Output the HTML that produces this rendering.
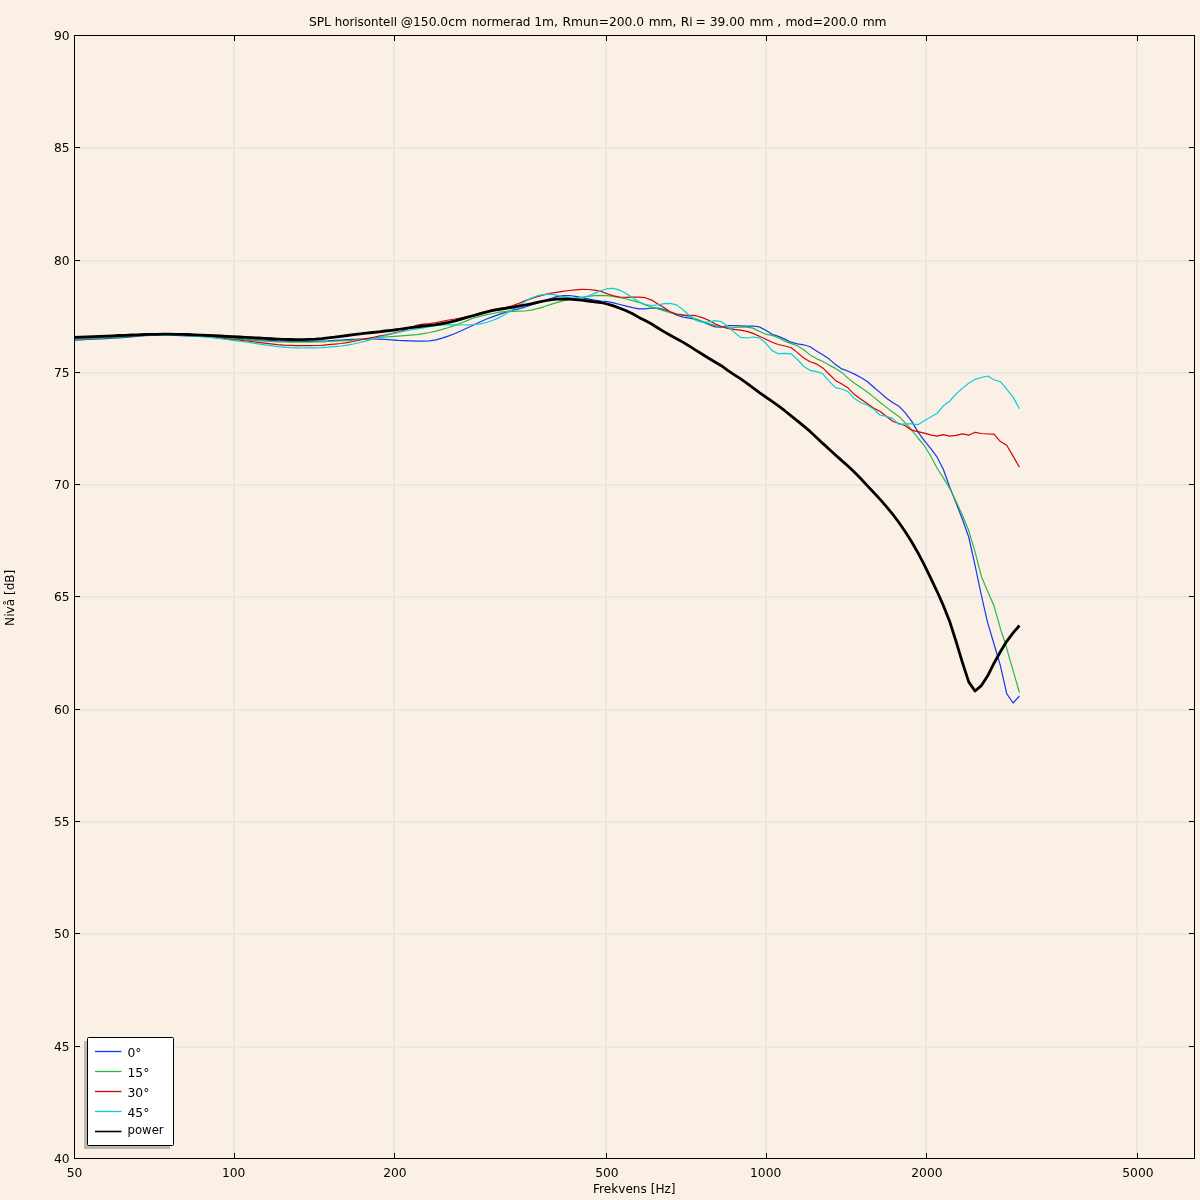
<!DOCTYPE html>
<html><head><meta charset="utf-8"><title>SPL horisontell</title>
<style>html,body{margin:0;padding:0;background:#faf0e6;}svg{display:block}text{font-family:"DejaVu Sans","Liberation Sans",sans-serif;fill:#000}</style></head><body>
<svg width="1200" height="1200" viewBox="0 0 1200 1200">
<rect x="0" y="0" width="1200" height="1200" fill="#faf0e6"/>
<path d="M75 148H1194 M75 261H1194 M75 373H1194 M75 485H1194 M75 597H1194 M75 710H1194 M75 822H1194 M75 934H1194 M75 1047H1194 M234 36V1158 M394 36V1158 M606 36V1158 M766 36V1158 M926 36V1158 M1137 36V1158" stroke="rgb(235,231,226)" stroke-width="2" fill="none"/>
<polyline points="74.5,340.1 80.8,339.8 87.2,339.5 93.5,339.2 99.9,338.9 106.2,338.6 112.5,338.2 118.9,337.8 125.2,337.4 131.6,336.8 137.9,336.1 144.3,335.6 150.6,335.4 156.9,335.4 163.3,335.4 169.6,335.5 176.0,335.5 182.3,335.6 188.6,335.8 195.0,336.0 201.3,336.3 207.7,336.5 214.0,336.9 220.4,337.3 226.7,337.7 233.0,338.2 239.4,338.8 245.7,339.4 252.1,339.8 258.4,340.0 264.7,340.1 271.1,340.4 277.4,340.9 283.8,341.2 290.1,341.4 296.5,341.5 302.8,341.5 309.1,341.4 315.5,341.2 321.8,341.0 328.2,340.8 334.5,340.4 340.8,340.1 347.2,339.7 353.5,339.3 359.9,339.0 366.2,339.0 372.6,339.0 378.9,339.1 385.2,339.4 391.6,339.8 397.9,340.3 404.3,340.6 410.6,340.9 416.9,341.2 423.3,341.2 429.6,340.9 436.0,339.9 442.3,338.1 448.7,335.9 455.0,333.5 461.3,330.8 467.7,327.8 474.0,324.7 480.4,321.7 486.7,319.0 493.0,316.6 499.4,314.4 505.7,312.1 512.1,310.3 518.4,308.8 524.8,307.2 531.1,305.0 537.4,303.0 543.8,301.1 550.1,298.7 556.5,296.6 562.8,295.6 569.1,295.5 575.5,296.3 581.8,297.6 588.2,298.9 594.5,300.1 600.9,301.0 607.2,301.7 613.5,302.9 619.9,304.5 626.2,306.1 632.6,307.6 638.9,308.9 645.2,308.8 651.6,308.0 657.9,308.1 664.3,309.6 670.6,312.5 677.0,315.2 683.3,317.1 689.6,318.1 696.0,319.4 702.3,321.7 708.7,324.5 715.0,326.9 721.3,327.1 727.7,325.7 734.0,325.6 740.4,325.8 746.7,326.2 753.1,326.0 759.4,326.9 765.7,330.3 772.1,334.3 778.4,336.4 784.8,339.1 791.1,342.2 797.4,343.8 803.8,344.8 810.1,346.8 816.5,350.9 822.8,354.7 829.2,359.1 835.5,364.6 841.8,368.9 848.2,371.3 854.5,374.1 860.9,377.5 867.2,381.5 873.5,387.0 879.9,392.4 886.2,398.0 892.6,402.6 898.9,406.2 905.3,412.8 911.6,421.1 917.9,431.9 924.3,440.7 930.6,448.3 937.0,456.9 943.3,469.3 949.6,486.7 956.0,502.8 962.3,519.0 968.7,537.0 975.0,565.1 981.4,595.5 987.7,622.8 994.0,644.0 1000.4,665.6 1006.7,693.6 1013.1,703.0 1019.4,696.0" fill="none" stroke="#1238ee" stroke-width="1.2" stroke-linejoin="round"/>
<polyline points="74.5,339.3 80.8,339.0 87.2,338.8 93.5,338.5 99.9,338.2 106.2,337.9 112.5,337.6 118.9,337.2 125.2,336.9 131.6,336.4 137.9,335.9 144.3,335.5 150.6,335.3 156.9,335.3 163.3,335.3 169.6,335.4 176.0,335.4 182.3,335.5 188.6,335.7 195.0,335.9 201.3,336.2 207.7,336.5 214.0,337.0 220.4,337.6 226.7,338.2 233.0,338.7 239.4,339.2 245.7,339.7 252.1,340.2 258.4,340.7 264.7,341.2 271.1,341.5 277.4,341.8 283.8,342.0 290.1,342.1 296.5,342.2 302.8,342.2 309.1,342.1 315.5,342.0 321.8,341.8 328.2,341.5 334.5,341.2 340.8,341.0 347.2,340.7 353.5,340.2 359.9,339.5 366.2,338.8 372.6,338.0 378.9,337.5 385.2,337.0 391.6,336.6 397.9,336.1 404.3,335.7 410.6,335.2 416.9,334.6 423.3,333.6 429.6,332.5 436.0,331.1 442.3,329.4 448.7,327.5 455.0,325.4 461.3,323.0 467.7,320.4 474.0,317.8 480.4,316.1 486.7,314.7 493.0,313.5 499.4,312.2 505.7,311.6 512.1,311.4 518.4,311.2 524.8,311.0 531.1,310.1 537.4,308.7 543.8,306.8 550.1,304.6 556.5,302.6 562.8,300.9 569.1,299.5 575.5,298.2 581.8,297.3 588.2,296.3 594.5,295.6 600.9,295.4 607.2,295.7 613.5,296.4 619.9,297.6 626.2,299.0 632.6,300.6 638.9,302.3 645.2,304.9 651.6,307.0 657.9,308.9 664.3,310.9 670.6,312.7 677.0,313.9 683.3,314.9 689.6,316.6 696.0,319.0 702.3,321.4 708.7,323.7 715.0,325.4 721.3,326.6 727.7,327.8 734.0,327.6 740.4,327.0 746.7,327.1 753.1,328.1 759.4,331.4 765.7,334.2 772.1,335.4 778.4,337.7 784.8,341.1 791.1,343.6 797.4,345.7 803.8,349.7 810.1,354.9 816.5,358.6 822.8,361.5 829.2,365.1 835.5,368.4 841.8,372.4 848.2,378.4 854.5,383.3 860.9,387.6 867.2,392.0 873.5,396.9 879.9,402.2 886.2,407.1 892.6,411.9 898.9,416.4 905.3,422.8 911.6,429.8 917.9,438.0 924.3,445.7 930.6,455.8 937.0,468.0 943.3,477.9 949.6,488.1 956.0,501.2 962.3,515.1 968.7,530.6 975.0,551.6 981.4,576.5 987.7,591.4 994.0,605.8 1000.4,628.6 1006.7,648.3 1013.1,670.7 1019.4,692.5" fill="none" stroke="#2ab840" stroke-width="1.2" stroke-linejoin="round"/>
<polyline points="74.5,338.3 80.8,338.1 87.2,337.8 93.5,337.6 99.9,337.3 106.2,337.0 112.5,336.7 118.9,336.5 125.2,336.2 131.6,335.9 137.9,335.5 144.3,335.3 150.6,335.2 156.9,335.2 163.3,335.3 169.6,335.3 176.0,335.4 182.3,335.5 188.6,335.7 195.0,336.0 201.3,336.3 207.7,336.7 214.0,337.4 220.4,338.1 226.7,338.9 233.0,339.6 239.4,340.2 245.7,340.8 252.1,341.5 258.4,342.4 264.7,343.2 271.1,343.9 277.4,344.6 283.8,345.1 290.1,345.4 296.5,345.7 302.8,345.7 309.1,345.6 315.5,345.5 321.8,345.3 328.2,344.7 334.5,344.1 340.8,343.5 347.2,342.6 353.5,341.5 359.9,340.0 366.2,338.7 372.6,337.5 378.9,336.2 385.2,335.0 391.6,333.7 397.9,332.2 404.3,330.1 410.6,327.2 416.9,325.2 423.3,324.2 429.6,323.5 436.0,322.5 442.3,321.3 448.7,320.0 455.0,319.0 461.3,317.8 467.7,316.5 474.0,314.8 480.4,312.9 486.7,311.0 493.0,309.5 499.4,308.4 505.7,307.3 512.1,305.9 518.4,303.5 524.8,300.9 531.1,298.6 537.4,296.6 543.8,294.8 550.1,293.3 556.5,292.4 562.8,291.4 569.1,290.5 575.5,289.8 581.8,289.3 588.2,289.5 594.5,290.1 600.9,291.4 607.2,293.7 613.5,295.9 619.9,297.0 626.2,297.4 632.6,297.2 638.9,297.2 645.2,297.7 651.6,300.1 657.9,304.0 664.3,307.8 670.6,311.9 677.0,314.5 683.3,315.2 689.6,315.3 696.0,315.7 702.3,317.6 708.7,320.3 715.0,323.8 721.3,326.5 727.7,328.5 734.0,329.4 740.4,330.1 746.7,331.4 753.1,333.4 759.4,336.2 765.7,339.2 772.1,342.2 778.4,344.5 784.8,346.0 791.1,347.5 797.4,352.6 803.8,358.0 810.1,361.8 816.5,363.9 822.8,367.9 829.2,374.2 835.5,380.4 841.8,384.1 848.2,388.1 854.5,394.6 860.9,399.2 867.2,403.6 873.5,408.1 879.9,411.2 886.2,416.3 892.6,421.3 898.9,423.5 905.3,425.7 911.6,430.2 917.9,431.7 924.3,433.2 930.6,434.9 937.0,436.2 943.3,434.7 949.6,436.2 956.0,435.4 962.3,433.8 968.7,435.2 975.0,432.3 981.4,433.5 987.7,434.0 994.0,434.2 1000.4,441.6 1006.7,445.3 1013.1,456.1 1019.4,467.2" fill="none" stroke="#d00404" stroke-width="1.2" stroke-linejoin="round"/>
<polyline points="74.5,338.3 80.8,338.1 87.2,337.8 93.5,337.6 99.9,337.3 106.2,337.0 112.5,336.7 118.9,336.5 125.2,336.2 131.6,335.9 137.9,335.5 144.3,335.3 150.6,335.2 156.9,335.2 163.3,335.3 169.6,335.4 176.0,335.5 182.3,335.7 188.6,335.9 195.0,336.2 201.3,336.6 207.7,337.2 214.0,337.9 220.4,338.6 226.7,339.5 233.0,340.4 239.4,341.2 245.7,342.0 252.1,342.9 258.4,343.9 264.7,344.8 271.1,345.7 277.4,346.6 283.8,347.2 290.1,347.7 296.5,347.9 302.8,348.0 309.1,347.9 315.5,347.8 321.8,347.6 328.2,347.2 334.5,346.6 340.8,346.0 347.2,345.1 353.5,344.0 359.9,342.5 366.2,340.9 372.6,339.2 378.9,337.5 385.2,335.7 391.6,334.0 397.9,332.5 404.3,331.1 410.6,330.0 416.9,328.9 423.3,327.8 429.6,326.7 436.0,325.6 442.3,325.0 448.7,324.8 455.0,324.9 461.3,325.0 467.7,324.8 474.0,324.5 480.4,323.8 486.7,322.5 493.0,320.3 499.4,317.6 505.7,314.1 512.1,309.9 518.4,305.6 524.8,301.8 531.1,298.1 537.4,295.7 543.8,294.6 550.1,294.2 556.5,295.1 562.8,296.3 569.1,297.6 575.5,298.3 581.8,297.7 588.2,296.0 594.5,293.4 600.9,290.7 607.2,288.7 613.5,288.3 619.9,290.2 626.2,293.5 632.6,297.8 638.9,301.8 645.2,304.3 651.6,305.5 657.9,304.8 664.3,303.6 670.6,303.3 677.0,305.1 683.3,310.0 689.6,315.7 696.0,320.4 702.3,322.4 708.7,321.8 715.0,320.6 721.3,321.7 727.7,326.3 734.0,332.1 740.4,337.3 746.7,338.0 753.1,337.0 759.4,337.9 765.7,343.1 772.1,350.6 778.4,353.7 784.8,353.3 791.1,353.8 797.4,359.5 803.8,366.4 810.1,370.3 816.5,371.6 822.8,373.8 829.2,381.3 835.5,387.7 841.8,389.0 848.2,391.8 854.5,398.6 860.9,402.8 867.2,405.0 873.5,408.9 879.9,415.0 886.2,416.4 892.6,418.4 898.9,424.4 905.3,423.8 911.6,423.8 917.9,424.7 924.3,420.7 930.6,417.1 937.0,413.5 943.3,405.8 949.6,401.3 956.0,394.0 962.3,388.4 968.7,383.2 975.0,379.3 981.4,377.5 987.7,376.0 994.0,379.7 1000.4,381.7 1006.7,389.2 1013.1,397.1 1019.4,408.7" fill="none" stroke="#08d0d4" stroke-width="1.2" stroke-linejoin="round"/>
<polyline points="74.5,337.3 80.8,337.1 87.2,336.8 93.5,336.6 99.9,336.3 106.2,336.1 112.5,335.8 118.9,335.5 125.2,335.3 131.6,335.0 137.9,334.8 144.3,334.5 150.6,334.4 156.9,334.3 163.3,334.2 169.6,334.2 176.0,334.3 182.3,334.4 188.6,334.5 195.0,334.8 201.3,335.1 207.7,335.3 214.0,335.7 220.4,336.0 226.7,336.3 233.0,336.7 239.4,337.0 245.7,337.4 252.1,337.7 258.4,338.0 264.7,338.3 271.1,338.7 277.4,339.1 283.8,339.4 290.1,339.5 296.5,339.6 302.8,339.6 309.1,339.4 315.5,339.1 321.8,338.6 328.2,337.9 334.5,337.2 340.8,336.3 347.2,335.5 353.5,334.6 359.9,333.8 366.2,333.1 372.6,332.5 378.9,331.8 385.2,331.0 391.6,330.3 397.9,329.5 404.3,328.5 410.6,327.6 416.9,326.8 423.3,326.0 429.6,325.4 436.0,324.7 442.3,323.6 448.7,322.4 455.0,320.9 461.3,319.1 467.7,317.2 474.0,315.5 480.4,313.7 486.7,312.0 493.0,310.4 499.4,309.4 505.7,308.3 512.1,307.3 518.4,306.2 524.8,305.0 531.1,303.8 537.4,302.4 543.8,301.0 550.1,299.8 556.5,299.1 562.8,299.0 569.1,299.1 575.5,299.6 581.8,300.2 588.2,301.0 594.5,301.8 600.9,302.5 607.2,304.0 613.5,305.9 619.9,308.2 626.2,310.8 632.6,313.7 638.9,317.4 645.2,320.6 651.6,324.0 657.9,328.0 664.3,331.9 670.6,335.5 677.0,339.0 683.3,342.4 689.6,346.2 696.0,350.3 702.3,354.2 708.7,358.2 715.0,362.0 721.3,365.7 727.7,370.3 734.0,374.6 740.4,378.7 746.7,383.1 753.1,387.8 759.4,392.6 765.7,397.0 772.1,401.4 778.4,405.8 784.8,410.7 791.1,415.9 797.4,420.9 803.8,426.1 810.1,431.4 816.5,437.4 822.8,443.4 829.2,449.2 835.5,455.0 841.8,460.6 848.2,466.3 854.5,472.3 860.9,478.7 867.2,485.6 873.5,492.3 879.9,499.1 886.2,506.4 892.6,514.2 898.9,522.5 905.3,531.7 911.6,541.8 917.9,552.7 924.3,564.8 930.6,577.8 937.0,591.3 943.3,605.4 949.6,621.3 956.0,641.2 962.3,662.1 968.7,681.9 975.0,691.0 981.4,685.6 987.7,675.8 994.0,663.2 1000.4,651.8 1006.7,641.3 1013.1,632.9 1019.4,625.5" fill="none" stroke="#000" stroke-width="2.78" stroke-linejoin="round"/>
<path d="M74 35.5h6M1195 35.5h-6M74 147.5h6M1195 147.5h-6M74 260.5h6M1195 260.5h-6M74 372.5h6M1195 372.5h-6M74 484.5h6M1195 484.5h-6M74 596.5h6M1195 596.5h-6M74 709.5h6M1195 709.5h-6M74 821.5h6M1195 821.5h-6M74 933.5h6M1195 933.5h-6M74 1046.5h6M1195 1046.5h-6M74 1158.5h6M1195 1158.5h-6M74.5 1159v-6M74.5 35v6M234.5 1159v-6M234.5 35v6M394.5 1159v-6M394.5 35v6M606.5 1159v-6M606.5 35v6M766.5 1159v-6M766.5 35v6M926.5 1159v-6M926.5 35v6M1137.5 1159v-6M1137.5 35v6" stroke="#000" stroke-width="1" fill="none"/>
<rect x="74.5" y="35.5" width="1120" height="1123" fill="none" stroke="#000" stroke-width="1"/>
<text x="69.6" y="40" font-size="12.3" text-anchor="end">90</text>
<text x="69.6" y="152" font-size="12.3" text-anchor="end">85</text>
<text x="69.6" y="265" font-size="12.3" text-anchor="end">80</text>
<text x="69.6" y="377" font-size="12.3" text-anchor="end">75</text>
<text x="69.6" y="489" font-size="12.3" text-anchor="end">70</text>
<text x="69.6" y="601" font-size="12.3" text-anchor="end">65</text>
<text x="69.6" y="714" font-size="12.3" text-anchor="end">60</text>
<text x="69.6" y="826" font-size="12.3" text-anchor="end">55</text>
<text x="69.6" y="938" font-size="12.3" text-anchor="end">50</text>
<text x="69.6" y="1051" font-size="12.3" text-anchor="end">45</text>
<text x="69.6" y="1163" font-size="12.3" text-anchor="end">40</text>
<text x="74.5" y="1177" font-size="12.3" text-anchor="middle">50</text>
<text x="233.7" y="1177" font-size="12.3" text-anchor="middle">100</text>
<text x="394.9" y="1177" font-size="12.3" text-anchor="middle">200</text>
<text x="606.9" y="1177" font-size="12.3" text-anchor="middle">500</text>
<text x="765.7" y="1177" font-size="12.3" text-anchor="middle">1000</text>
<text x="926.9" y="1177" font-size="12.3" text-anchor="middle">2000</text>
<text x="1137.9" y="1177" font-size="12.3" text-anchor="middle">5000</text>
<text x="634.3" y="1193" font-size="12.1" text-anchor="middle">Frekvens [Hz]</text>
<text transform="translate(14,597.8) rotate(-90)" font-size="12.1" text-anchor="middle">Nivå [dB]</text>
<text y="26" font-size="12.3" xml:space="preserve"><tspan x="308.89">SPL</tspan> <tspan x="334.68" textLength="62.3" lengthAdjust="spacingAndGlyphs">horisontell</tspan> <tspan x="400.69">@150.0cm</tspan> <tspan x="471.63" textLength="58.9" lengthAdjust="spacingAndGlyphs">normerad</tspan> <tspan x="534.25">1m,</tspan> <tspan x="562.54">Rmun=200.0</tspan> <tspan x="648.63">mm,</tspan> <tspan x="680.69">Ri</tspan> <tspan x="695.50">=</tspan> <tspan x="709.66">39.00</tspan> <tspan x="749.48">mm</tspan> <tspan x="777.15">,</tspan> <tspan x="785.38">mod=200.0</tspan> <tspan x="862.63">mm</tspan></text>
<rect x="84" y="1041" width="86" height="108" fill="rgb(187,183,179)"/>
<rect x="87.5" y="1037.5" width="86" height="108" rx="1" fill="#fff" stroke="#000" stroke-width="1"/>
<line x1="95" y1="1051.5" x2="121.5" y2="1051.5" stroke="#1238ee" stroke-width="1.3"/>
<text x="127.5" y="1057.0" font-size="12.3">0°</text>
<line x1="95" y1="1071.5" x2="121.5" y2="1071.5" stroke="#2ab840" stroke-width="1.3"/>
<text x="127.5" y="1077.0" font-size="12.3">15°</text>
<line x1="95" y1="1091.5" x2="121.5" y2="1091.5" stroke="#d00404" stroke-width="1.3"/>
<text x="127.5" y="1097.0" font-size="12.3">30°</text>
<line x1="95" y1="1111.5" x2="121.5" y2="1111.5" stroke="#08d0d4" stroke-width="1.3"/>
<text x="127.5" y="1117.0" font-size="12.3">45°</text>
<line x1="95" y1="1131.5" x2="121.5" y2="1131.5" stroke="#000" stroke-width="1.6"/>
<text x="127.6" y="1133.9" font-size="12.3" textLength="36" lengthAdjust="spacingAndGlyphs">power</text>
</svg></body></html>
